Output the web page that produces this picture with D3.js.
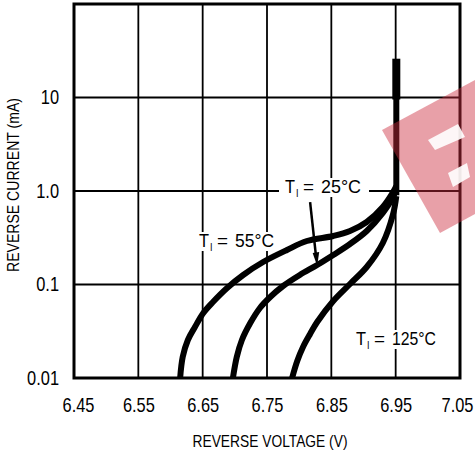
<!DOCTYPE html>
<html>
<head>
<meta charset="utf-8">
<script src="https://cdn.jsdelivr.net/npm/d3@7"></script>
<style>
  html, body { margin: 0; padding: 0; background: #fff; }
  svg text { font-family: "Liberation Sans", Arial, sans-serif; fill: #000; }
</style>
</head>
<body>
<div id="chart"></div>
<script>
// tick values
var xTicks = [6.45, 6.55, 6.65, 6.75, 6.85, 6.95, 7.05];
var yTicks = [0.01, 0.1, 1, 10];
var yTickLabels = ["0.01", "0.1", "1.0", "10"];

// curves (volts, mA)
var temps = ["55°C", "25°C", "125°C"];
var volts55 = [6.615, 6.619, 6.627, 6.638, 6.651, 6.666, 6.688, 6.713, 6.744, 6.781, 6.812, 6.853, 6.879, 6.905, 6.930, 6.946, 6.951];
var amps55  = [0.01, 0.0168, 0.0255, 0.0351, 0.0496, 0.065, 0.0918, 0.1265, 0.174, 0.234, 0.292, 0.330, 0.373, 0.466, 0.675, 0.975, 1.13];
var volts25 = [6.697, 6.703, 6.711, 6.724, 6.739, 6.755, 6.775, 6.801, 6.828, 6.853, 6.879, 6.905, 6.930, 6.946, 6.951];
var amps25  = [0.01, 0.0168, 0.0255, 0.0387, 0.0561, 0.0735, 0.0964, 0.1265, 0.1616, 0.2068, 0.271, 0.3735, 0.582, 0.863, 1.07];
var volts125 = [6.789, 6.797, 6.806, 6.817, 6.828, 6.853, 6.879, 6.905, 6.930, 6.946, 6.951];
var amps125  = [0.01, 0.0152, 0.0215, 0.0296, 0.0397, 0.0666, 0.1012, 0.1539, 0.278, 0.5675, 0.884];

// breakdown stem where the three curves meet
var stemVolt = 6.951;
var stemAmps = [0.9, 10, 26];

var w = 475, h = 454;
var margin = {left: 74, right: 15, top: 4, bottom: 76};
var NARROW = 0.82;   // no condensed font here, so squeeze Liberation Sans

var svg = d3.select("#chart").append("svg")
    .attr("width", w)
    .attr("height", h);

var x = d3.scaleLinear().domain([6.45, 7.05]).range([margin.left, w - margin.right]);
var y = d3.scaleLog().domain([0.01, 100]).range([h - margin.bottom, margin.top]);

function squeeze(sel, width) {
    sel.each(function () {
        var len = width || this.getComputedTextLength() * NARROW;
        d3.select(this).attr("textLength", len).attr("lengthAdjust", "spacingAndGlyphs");
    });
}

// grid
svg.append("g").selectAll("line")
    .data(xTicks.slice(1, -1))
    .enter().append("line")
    .attr("x1", function (d) { return x(d); })
    .attr("x2", function (d) { return x(d); })
    .attr("y1", y.range()[1])
    .attr("y2", y.range()[0])
    .attr("stroke", "#000").attr("stroke-width", 1.8);

svg.append("g").selectAll("line")
    .data(yTicks.slice(1))
    .enter().append("line")
    .attr("x1", x.range()[0])
    .attr("x2", x.range()[1])
    .attr("y1", function (d) { return y(d); })
    .attr("y2", function (d) { return y(d); })
    .attr("stroke", "#000").attr("stroke-width", 1.8);

// axes (labels only, frame drawn below)
var xAxis = svg.append("g")
    .attr("transform", "translate(0," + y.range()[0] + ")")
    .call(d3.axisBottom(x).tickValues(xTicks).tickSize(0).tickPadding(20).tickFormat(d3.format(".2f")));
xAxis.select(".domain").remove();
xAxis.selectAll("text")
    .attr("font-size", 20).attr("font-family", null)
    .attr("transform", function (d, i) {
        var shift = i === 0 ? 4 : (i === xTicks.length - 1 ? -3 : 0);
        return "translate(" + shift + ",0) scale(" + NARROW + ",1)";
    });

var yAxis = svg.append("g")
    .attr("transform", "translate(" + x.range()[0] + ",0)")
    .call(d3.axisLeft(y).tickValues(yTicks).tickSize(0).tickPadding(15)
        .tickFormat(function (d, i) { return yTickLabels[i]; }));
yAxis.select(".domain").remove();
yAxis.selectAll("text").attr("font-size", 20).attr("font-family", null).call(squeeze);

// frame
svg.append("rect")
    .attr("x", x.range()[0]).attr("y", y.range()[1])
    .attr("width", x.range()[1] - x.range()[0])
    .attr("height", y.range()[0] - y.range()[1])
    .attr("fill", "none").attr("stroke", "#000").attr("stroke-width", 3);

// axis titles
svg.append("text")
    .attr("x", 270).attr("y", 447)
    .attr("text-anchor", "middle")
    .attr("font-size", 17)
    .text("REVERSE VOLTAGE (V)")
    .call(squeeze, 155);

svg.append("text")
    .attr("transform", "translate(19,185) rotate(-90)")
    .attr("text-anchor", "middle")
    .attr("font-size", 17)
    .text("REVERSE CURRENT (mA)")
    .call(squeeze, 174);

// temperature labels with white backing
function tempLabel(px, py, t, valueWidth) {
    var g = svg.append("g");
    g.append("rect").attr("fill", "#fff")
        .attr("x", px - 6).attr("y", py - 15)
        .attr("width", valueWidth + 50).attr("height", 19);
    g.append("text").attr("x", px).attr("y", py).attr("font-size", 18).text("T").call(squeeze, 10);
    g.append("text").attr("x", px + 11).attr("y", py + 4).attr("font-size", 10).text("I").call(squeeze, 2.5);
    g.append("text").attr("x", px + 18).attr("y", py).attr("font-size", 18).text("=").call(squeeze, 11);
    g.append("text").attr("x", px + 36).attr("y", py).attr("font-size", 18).text(t).call(squeeze, valueWidth);
}

tempLabel(285, 193, temps[1], 40);
tempLabel(199, 247, temps[0], 39);
tempLabel(356, 345, temps[2], 44);

var line = d3.line()
    .curve(d3.curveCatmullRom.alpha(0.5))
    .x(function (d) { return x(d[0]); })
    .y(function (d) { return y(d[1]); });

var series = [
    d3.zip(volts55, amps55),
    d3.zip(volts25, amps25),
    d3.zip(volts125, amps125)
];

svg.append("g").selectAll("path")
    .data(series)
    .enter().append("path")
    .attr("d", line)
    .attr("fill", "none")
    .attr("stroke", "#000")
    .attr("stroke-width", 6);

// stem
svg.append("line")
    .attr("x1", x(stemVolt)).attr("x2", x(stemVolt))
    .attr("y1", y(stemAmps[0])).attr("y2", y(stemAmps[1]))
    .attr("stroke", "#000").attr("stroke-width", 6);
svg.append("line")
    .attr("x1", x(stemVolt)).attr("x2", x(stemVolt))
    .attr("y1", y(stemAmps[1]) + 2).attr("y2", y(stemAmps[2]))
    .attr("stroke", "#000").attr("stroke-width", 8);

// arrow from the 25°C label to its curve
var ax0 = x(6.817), ay0 = y(0.76), ax1 = x(6.828), ay1 = y(0.158);
svg.append("line")
    .attr("x1", ax0).attr("y1", ay0)
    .attr("x2", ax1 - 1).attr("y2", ay1 - 8)
    .attr("stroke", "#000").attr("stroke-width", 2.5);
svg.append("path")
    .attr("d", "M" + (ax1 - 4.5) + "," + (ay1 - 13) + " L" + (ax1 + 2) + "," + (ay1 - 14) +
        " L" + ax1 + "," + ay1 + " Z")
    .attr("fill", "#000");

// watermark
svg.append("polygon")
    .attr("points", "382,130 475,80 475,214 440,233")
    .attr("fill", "rgb(204,44,62)")
    .attr("opacity", 0.45);
svg.append("polygon")
    .attr("points", "428,140 458,124 465,137 435,150")
    .attr("fill", "#fff").attr("opacity", 0.9);
svg.append("polygon")
    .attr("points", "448,173 467,163 470,177 453,187")
    .attr("fill", "#fff").attr("opacity", 0.9);
</script>
</body>
</html>
